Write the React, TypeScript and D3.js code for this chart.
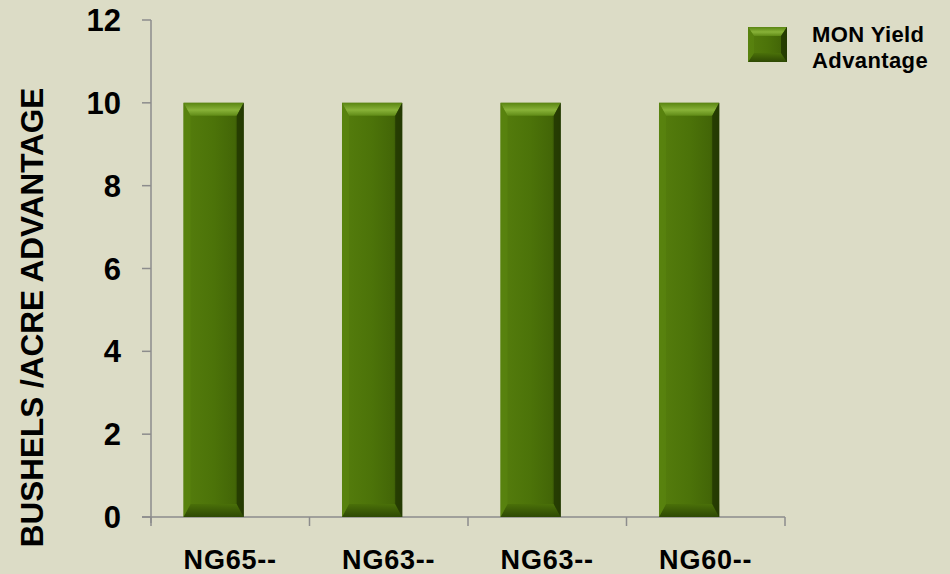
import React from "react";
import * as d3 from "d3";

const categories = ["NG65--", "NG63--", "NG63--", "NG60--"];
const yieldAdvantage = [10, 10, 10, 10];
const yTicks = [0, 2, 4, 6, 8, 10, 12];
const seriesName = ["MON Yield", "Advantage"];
const yAxisTitle = "BUSHELS /ACRE ADVANTAGE";

const W = 950;
const H = 574;
const BG = "#dcdcc6";
const FONT = "'Liberation Sans', Arial, sans-serif";

function Bar({ x, y, w, h, id, b = 13, s = 7 }: { x: number; y: number; w: number; h: number; id: string; b?: number; s?: number }) {
  return (
    <g>
      <rect x={x} y={y} width={w} height={h} fill={`url(#${id}-body)`} />
      <polygon
        points={`${x},${y} ${x + w},${y} ${x + w - s},${y + b} ${x + s},${y + b}`}
        fill={`url(#${id}-top)`}
      />
      <polygon
        points={`${x + s},${y + h - b} ${x + w - s},${y + h - b} ${x + w},${y + h} ${x},${y + h}`}
        fill={`url(#${id}-bot)`}
      />
      <polygon
        points={`${x},${y} ${x + s},${y + b} ${x + s},${y + h - b} ${x},${y + h}`}
        fill="#5a8410"
        opacity={0.7}
      />
      <polygon
        points={`${x + w},${y} ${x + w - s},${y + b} ${x + w - s},${y + h - b} ${x + w},${y + h}`}
        fill="#233802"
        opacity={0.85}
      />
    </g>
  );
}

export default function App() {
  const margin = { left: 151, right: 165, top: 20, bottom: 57 };
  const x = d3
    .scaleBand<number>()
    .domain(categories.map((_, i) => i))
    .range([margin.left, W - margin.right])
    .padding(0);
  const y = d3.scaleLinear().domain([0, 12]).range([H - margin.bottom, margin.top]);
  const bw = x.bandwidth();
  const barOffset = bw * 0.205;
  const barW = bw * 0.38;
  const x0 = margin.left;
  const y0 = y(0);
  const axisColor = "#8c8c8c";

  return (
    <svg
      width={W}
      height={H}
      style={{ position: "absolute", left: 0, top: 0, display: "block" }}
      fontFamily={FONT}
    >
      <defs>
        <linearGradient id="bar-body" x1="0" x2="1" y1="0" y2="0">
          <stop offset="0" stopColor="#557d0d" />
          <stop offset="0.5" stopColor="#4c7309" />
          <stop offset="0.85" stopColor="#436607" />
          <stop offset="1" stopColor="#2a4204" />
        </linearGradient>
        <linearGradient id="bar-top" x1="0" x2="0" y1="0" y2="1">
          <stop offset="0" stopColor="#5a8512" />
          <stop offset="0.55" stopColor="#88b238" />
          <stop offset="1" stopColor="#5f8a16" />
        </linearGradient>
        <linearGradient id="bar-bot" x1="0" x2="0" y1="0" y2="1">
          <stop offset="0" stopColor="#4a7009" />
          <stop offset="0.5" stopColor="#3c5c06" />
          <stop offset="1" stopColor="#2e4904" />
        </linearGradient>
      </defs>
      <rect x={0} y={0} width={W} height={H} fill={BG} />

      {/* y axis */}
      <line x1={x0} x2={x0} y1={y(12)} y2={y0 + 6} stroke={axisColor} strokeWidth={1.5} />
      {yTicks.map((t) => (
        <g key={t}>
          <line x1={x0 - 9} x2={x0} y1={y(t)} y2={y(t)} stroke={axisColor} strokeWidth={1.5} />
          <text
            x={121}
            y={y(t)}
            dy="0.36em"
            textAnchor="end"
            fontSize={31}
            fontWeight="bold"
            fill="#000"
          >
            {t}
          </text>
        </g>
      ))}

      {/* x axis */}
      <line x1={x0 - 9} x2={W - margin.right} y1={y0} y2={y0} stroke={axisColor} strokeWidth={1.5} />
      {[...categories.map((_, i) => x(i) as number), W - margin.right].map((v, i) => (
        <line key={i} x1={v} x2={v} y1={y0} y2={y0 + 9} stroke={axisColor} strokeWidth={1.5} />
      ))}

      {/* bars */}
      {yieldAdvantage.map((v, i) => {
        const bx = (x(i) as number) + barOffset;
        return <Bar key={i} id="bar" x={bx} y={y(v)} w={barW} h={y0 - y(v)} />;
      })}

      {/* x labels */}
      {categories.map((c, i) => (
        <text
          key={i}
          x={(x(i) as number) + bw / 2}
          y={569}
          textAnchor="middle"
          fontSize={27}
          letterSpacing={0.8}
          fontWeight="bold"
          fill="#000"
        >
          {c}
        </text>
      ))}

      {/* y axis title */}
      <text
        transform={`translate(43, 317.5) rotate(-90)`}
        textAnchor="middle"
        fontSize={31.5}
        fontWeight="bold"
        fill="#000"
      >
        {yAxisTitle}
      </text>

      {/* legend */}
      <Bar id="bar" x={748} y={27} w={39} h={35} b={9} s={6} />
      {seriesName.map((s, i) => (
        <text key={i} x={812} y={42 + i * 25.5} fontSize={22} letterSpacing={0.4} fontWeight="bold" fill="#000">
          {s}
        </text>
      ))}
    </svg>
  );
}
